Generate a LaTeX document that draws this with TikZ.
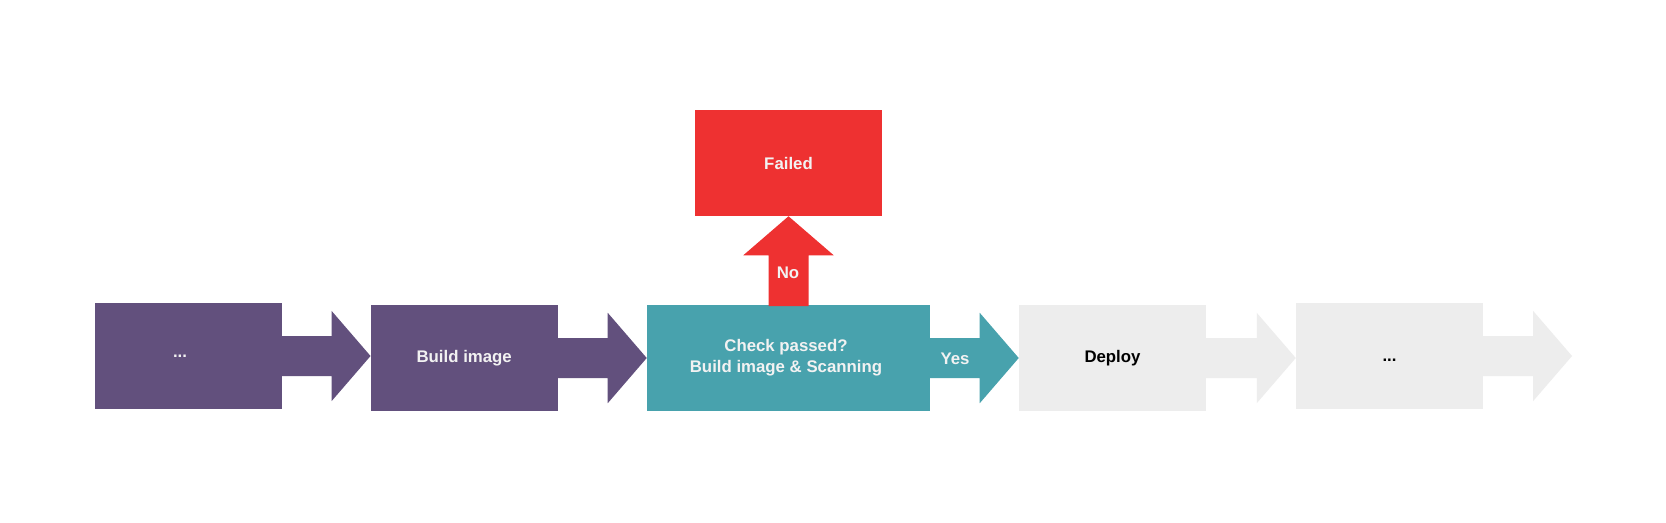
\documentclass[tikz,border=0pt]{standalone}
\usepackage{fontspec}
\setmainfont{Liberation Sans}
\usetikzlibrary{calc}
\definecolor{cpurple}{HTML}{62507D}
\definecolor{cteal}{HTML}{48A2AD}
\definecolor{cred}{HTML}{EE3131}
\definecolor{cgray}{HTML}{EDEDED}
\definecolor{ctext}{HTML}{F2F2F2}
\newcommand\blockarr[3]{%
  \fill[#3] let \p1=(#1), \p2=(#2) in
    (\x1-1pt,\y1+15pt) -- (\x2-29.25pt,\y1+15pt) -- (\x2-29.25pt,\y1+33.9pt) -- (\x2,\y1)
    -- (\x2-29.25pt,\y1-33.9pt) -- (\x2-29.25pt,\y1-15pt) -- (\x1-1pt,\y1-15pt) -- cycle;}
\begin{document}
\begin{tikzpicture}[x=0.75pt,y=-0.75pt,
  box/.style={inner sep=0pt,minimum width=#1*0.75pt,minimum height=79.5pt},
  lbl/.style={font=\fontsize{12.6}{15.5}\selectfont\bfseries,text=ctext,align=center}]
\useasboundingbox[fill=white] (0,0) rectangle (1666,522);
% boxes
\node[box=187.5,fill=cpurple,minimum height=80pt] (b1) at (188.25,356) {};
\node[box=186.8,fill=cpurple] (b2) at (464.2,358) {};
\node[box=283,fill=cteal] (b3) at (788.5,358) {};
\node[box=187,fill=cgray] (b4) at (1112.5,358) {};
\node[box=187,fill=cgray,minimum height=80pt] (b5) at (1389.5,356) {};
\node[box=187,fill=cred,minimum height=79.5pt] (f) at (788.5,163) {};
\coordinate (end) at (1572,356);
% block arrows
\blockarr{b1.east}{b2.west}{cpurple}
\blockarr{b2.east}{b3.west}{cpurple}
\blockarr{b3.east}{b4.west}{cteal}
\blockarr{b4.east}{b5.west}{cgray}
\blockarr{b5.east}{end}{cgray}
\fill[cred] let \p1=(b3.north), \p2=(f.south) in
  (\x1-15pt,\y1-1pt) -- (\x1-15pt,\y2-29.25pt) -- (\x1-33.9pt,\y2-29.25pt) -- (\x2,\y2)
  -- (\x1+33.9pt,\y2-29.25pt) -- (\x1+15pt,\y2-29.25pt) -- (\x1+15pt,\y1-1pt) -- cycle;
% labels
\node[lbl] (t1) at (180,356) {...};
\node[lbl] (t2) at (b2) {Build image};
\node[lbl] (t3) at (786,358) {Check passed?\\Build image \& Scanning};
\node[lbl] (ty) at (955,359) {Yes};
\node[lbl] (tn) at (788,273) {No};
\node[lbl] (tf) at (f) {Failed};
\node[lbl,text=black] (t4) at (b4) {Deploy};
\node[lbl,text=black] (t5) at (1389.5,360) {...};
\end{tikzpicture}
\end{document}
